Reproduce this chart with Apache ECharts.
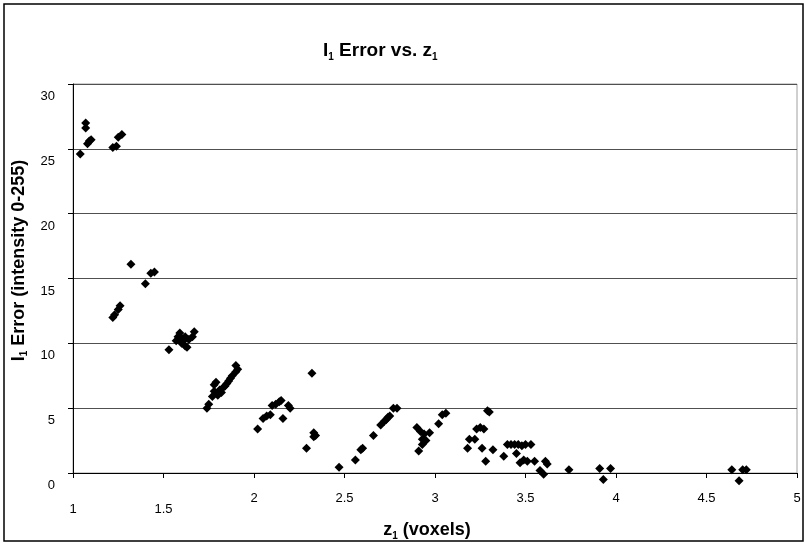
<!DOCTYPE html>
<html>
<head>
<meta charset="utf-8">
<script src="https://cdn.jsdelivr.net/npm/echarts@6/dist/echarts.min.js"></script>
<style>
  html, body { margin: 0; padding: 0; background: #fff; }
  #main { width: 807px; height: 543px; }
</style>
</head>
<body>
<div id="main"></div>
<script>
// z1 values (voxels) and the matching l1 error (intensity 0-255)
var z1 = [
    1.04, 1.07, 1.07, 1.08, 1.09, 1.10, 1.22, 1.24, 1.25, 1.27,
    1.22, 1.23, 1.25, 1.26, 1.32, 1.40, 1.43, 1.45,
    1.53, 1.57, 1.58, 1.59, 1.60, 1.60, 1.61, 1.62, 1.62, 1.63, 1.64, 1.66, 1.67,
    1.74, 1.75, 1.77, 1.78, 1.78, 1.79, 1.80, 1.81, 1.82, 1.83, 1.84, 1.85, 1.86, 1.87, 1.88, 1.90, 1.90, 1.91,
    2.02, 2.05, 2.07, 2.09, 2.10, 2.12, 2.14, 2.15, 2.16, 2.19, 2.20,
    2.29, 2.32, 2.33, 2.33, 2.34,
    2.47, 2.56, 2.59, 2.60, 2.66, 2.70, 2.72, 2.73, 2.74, 2.75, 2.77, 2.79,
    2.90, 2.91, 2.92, 2.93, 2.93, 2.94, 2.95, 2.97, 3.02, 3.04, 3.06,
    3.18, 3.19, 3.22, 3.23, 3.25, 3.26, 3.27, 3.28, 3.29, 3.30, 3.32,
    3.38, 3.40, 3.42, 3.44, 3.45, 3.46, 3.47, 3.48, 3.49, 3.50, 3.51, 3.53, 3.55, 3.58, 3.60, 3.61, 3.62,
    3.74, 3.91, 3.93, 3.97, 4.64, 4.68, 4.70, 4.72
];
var l1Error = [
    24.6, 26.6, 27.0, 25.4, 25.6, 25.7, 25.1, 25.2, 25.9, 26.1,
    12.0, 12.2, 12.6, 12.9, 16.1, 14.6, 15.4, 15.5,
    9.5, 10.2, 10.5, 10.8, 10.0, 10.4, 10.2, 9.8, 10.5, 9.7, 10.3, 10.5, 10.9,
    5.0, 5.3, 5.9, 6.3, 6.8, 7.0, 6.0, 6.4, 6.2, 6.6, 6.7, 6.9, 7.1, 7.3, 7.5, 7.8, 8.3, 8.0,
    3.4, 4.2, 4.4, 4.5, 5.2, 5.3, 5.5, 5.6, 4.2, 5.2, 5.0,
    1.9, 7.7, 2.8, 3.1, 2.9,
    0.45, 1.0, 1.8, 1.9, 2.9, 3.7, 4.0, 4.1, 4.3, 4.4, 5.0, 5.0,
    3.5, 1.7, 3.2, 2.6, 2.2, 3.0, 2.5, 3.1, 3.8, 4.5, 4.6,
    1.9, 2.6, 2.6, 3.4, 3.5, 1.9, 3.4, 0.9, 4.8, 4.7, 1.8,
    1.3, 2.2, 2.2, 2.2, 1.5, 2.2, 0.8, 2.1, 1.0, 2.2, 0.9, 2.2, 0.9, 0.2, -0.1, 0.9, 0.7,
    0.25, 0.35, -0.5, 0.35, 0.25, -0.6, 0.25, 0.25
];
// these two x labels sit lower than the rest in the original
var lowXLabels = [1, 1.5];

var font = 'Liberation Sans, Arial, sans-serif';
var subStyle = { fontSize: 10, fontWeight: 'bold', fontFamily: font, color: '#000', verticalAlign: 'bottom', lineHeight: 22 };
var boldStyle = { fontSize: 18, fontWeight: 'bold', fontFamily: font, color: '#000', lineHeight: 22 };

var points = z1.map(function (z, i) { return [z, l1Error[i]]; });

var myChart = echarts.init(document.getElementById('main'));

var option = {
    backgroundColor: '#fff',
    animation: false,
    title: {
        text: '{t|I}{s|1}{t| Error vs. z}{s|1}',
        left: 318,
        top: 35,
        textStyle: {
            rich: {
                t: { fontSize: 19, fontWeight: 'bold', fontFamily: font, color: '#000', lineHeight: 22 },
                s: subStyle
            }
        }
    },
    graphic: [{
        type: 'rect',
        shape: { x: 4, y: 4, width: 799, height: 537 },
        style: { fill: null, stroke: '#000', lineWidth: 1.5 },
        silent: true
    }],
    grid: {
        left: 73,
        right: 10,
        top: 84,
        bottom: 70,
        containLabel: false,
        outerBoundsMode: 'none',
        show: true,
        borderColor: '#a0a0a0',
        borderWidth: 1
    },
    xAxis: {
        type: 'value',
        min: 1,
        max: 5,
        interval: 0.5,
        name: '{b|z}{s|1}{b| (voxels)}',
        nameLocation: 'middle',
        nameGap: 36,
        nameTextStyle: {
            padding: [0, 16, 0, 0],
            rich: { b: boldStyle, s: subStyle }
        },
        axisLine: { show: true, onZero: false, lineStyle: { color: '#000', width: 1 } },
        axisTick: { show: true, inside: false, length: 5, lineStyle: { color: '#000' } },
        splitLine: { show: false },
        axisLabel: {
            margin: 19,
            formatter: function (v) {
                return (lowXLabels.indexOf(v) >= 0 ? '{lo|' : '{n|') + v + '}';
            },
            rich: {
                n: { fontSize: 13, fontFamily: font, color: '#000' },
                lo: { fontSize: 13, fontFamily: font, color: '#000', padding: [11, 0, 0, 0] }
            }
        }
    },
    yAxis: {
        type: 'value',
        min: 0,
        max: 30,
        interval: 5,
        name: '{b|I}{s|1}{b| Error (intensity 0-255)}',
        nameLocation: 'middle',
        nameGap: 42,
        nameTextStyle: {
            padding: [0, 0, 0, 36],
            rich: { b: boldStyle, s: subStyle }
        },
        axisLine: { show: true, lineStyle: { color: '#000', width: 1 } },
        axisTick: { show: true, inside: false, length: 5, lineStyle: { color: '#000' } },
        splitLine: { show: true, lineStyle: { color: '#505050', width: 1 } },
        axisLabel: {
            margin: 18,
            fontSize: 13,
            fontFamily: font,
            color: '#000',
            verticalAlign: 'top',
            padding: [6, 0, 0, 0]
        }
    },
    series: [{
        type: 'scatter',
        data: points,
        clip: false,
        symbol: 'diamond',
        symbolSize: 9,
        itemStyle: { color: '#000', opacity: 1 }
    }]
};

myChart.setOption(option);
</script>
</body>
</html>
